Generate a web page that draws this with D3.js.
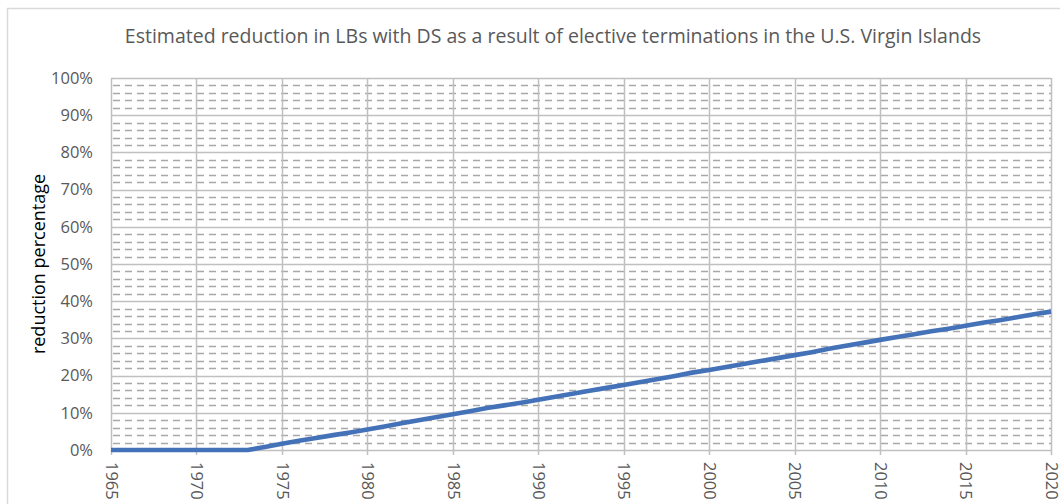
<!DOCTYPE html>
<html>
<head>
<meta charset="utf-8">
<script src="https://cdn.jsdelivr.net/npm/d3@7"></script>
<style>
html,body{margin:0;padding:0;background:#fff;}
svg{display:block;}
text{font-family:"Open Sans","Noto Sans",sans-serif;}
</style>
</head>
<body>
<svg id="chart" width="1060" height="504"></svg>
<script>
const title = "Estimated reduction in LBs with DS as a result of elective terminations in the U.S. Virgin Islands";
const yAxisTitle = "reduction percentage";
const years = d3.range(1965, 2021);
const reduction = [
  0, 0, 0, 0, 0, 0, 0, 0, 0,
  0.8, 1.7, 2.5, 3.2, 4.0, 4.7,
  5.5, 6.3, 7.2, 8.0, 8.8,
  9.6, 10.4, 11.3, 12.0, 12.7,
  13.5, 14.3, 15.1, 15.9, 16.7,
  17.5, 18.3, 19.1, 19.9, 20.8,
  21.5, 22.3, 23.1, 23.9, 24.7,
  25.5, 26.3, 27.2, 28.0, 28.8,
  29.6, 30.4, 31.1, 31.9, 32.6,
  33.4, 34.2, 34.9, 35.7, 36.5,
  37.2
];
const yTicks = [0,10,20,30,40,50,60,70,80,90,100];
const yMinorTicks = d3.range(0, 100, 2).filter(v => v % 10 !== 0);
const xTicks = [1965,1970,1975,1980,1985,1990,1995,2000,2005,2010,2015,2020];

const data = years.map((y,i)=>({year:y, value:reduction[i]}));

const svg = d3.select("#chart");
const plot = {left:111, right:1051, top:78, bottom:450};
const FONT = '"Open Sans","Noto Sans",sans-serif';

// outer chart border
svg.append("rect").attr("x",7.5).attr("y",8.5).attr("width",1070).attr("height",520)
  .attr("fill","#fff").attr("stroke","#d9d9d9").attr("stroke-width",1.5);

const x = d3.scaleLinear().domain([1965,2020]).range([plot.left, plot.right]);
const y = d3.scaleLinear().domain([0,100]).range([plot.bottom, plot.top]);

// minor horizontal gridlines
svg.append("g").selectAll("line").data(yMinorTicks).join("line")
  .attr("x1",plot.left+2).attr("x2",plot.right)
  .attr("y1",d=>Math.round(y(d))+0.5).attr("y2",d=>Math.round(y(d))+0.5)
  .attr("stroke","#a8a8a8").attr("stroke-width",1.3).attr("stroke-dasharray","7,5");

// major horizontal gridlines
svg.append("g").selectAll("line").data(yTicks.filter(d=>d>0)).join("line")
  .attr("x1",plot.left).attr("x2",plot.right)
  .attr("y1",d=>Math.round(y(d))+0.5).attr("y2",d=>Math.round(y(d))+0.5)
  .attr("stroke","#c0c0c0").attr("stroke-width",1.5);

// vertical major gridlines (with tick marks below axis)
svg.append("g").selectAll("line").data(xTicks).join("line")
  .attr("x1",d=>Math.round(x(d))+0.5).attr("x2",d=>Math.round(x(d))+0.5)
  .attr("y1",plot.top).attr("y2",plot.bottom+5)
  .attr("stroke","#c0c0c0").attr("stroke-width",1.5);

// x axis line
svg.append("line").attr("x1",plot.left).attr("x2",plot.right)
  .attr("y1",plot.bottom+0.5).attr("y2",plot.bottom+0.5)
  .attr("stroke","#c0c0c0").attr("stroke-width",1.5);

// y tick labels via axis
const yAxis = d3.axisLeft(y).tickValues(yTicks).tickFormat(d=>d+"%").tickSize(0).tickPadding(0);
const gy = svg.append("g").attr("transform",`translate(${93},0)`).call(yAxis);
gy.select(".domain").remove();
gy.attr("font-size",null).attr("font-family",null);
gy.selectAll("text").attr("fill","#595959").style("font-size","16.5px").style("font-family",FONT);

// x tick labels via axis, rotated
const xAxis = d3.axisBottom(x).tickValues(xTicks).tickFormat(d3.format("d")).tickSize(0).tickPadding(0);
const gx = svg.append("g").attr("transform",`translate(0,${plot.bottom})`).call(xAxis);
gx.select(".domain").remove();
gx.attr("font-size",null).attr("font-family",null);
gx.selectAll("text")
  .attr("fill","#595959").style("font-size","16.5px").style("font-family",FONT)
  .attr("text-anchor","start").attr("dy","0.35em").attr("x",0).attr("y",0)
  .attr("transform","translate(0,12) rotate(90)");

// line
const line = d3.line().x(d=>x(d.year)).y(d=>y(d.value));
svg.append("path").datum(data).attr("d",line)
  .attr("fill","none").attr("stroke","#4472b8").attr("stroke-width",4.6)
  .attr("stroke-linejoin","round").attr("stroke-linecap","butt");

// title
svg.append("text").attr("x",553).attr("y",43).attr("text-anchor","middle")
  .attr("fill","#595959").style("font-size","19.5px").text(title);

// y axis title
svg.append("text").attr("transform",`translate(45,${(plot.top+plot.bottom)/2}) rotate(-90)`)
  .attr("text-anchor","middle").attr("fill","#000").style("font-size","18px").text(yAxisTitle);
</script>
</body>
</html>
